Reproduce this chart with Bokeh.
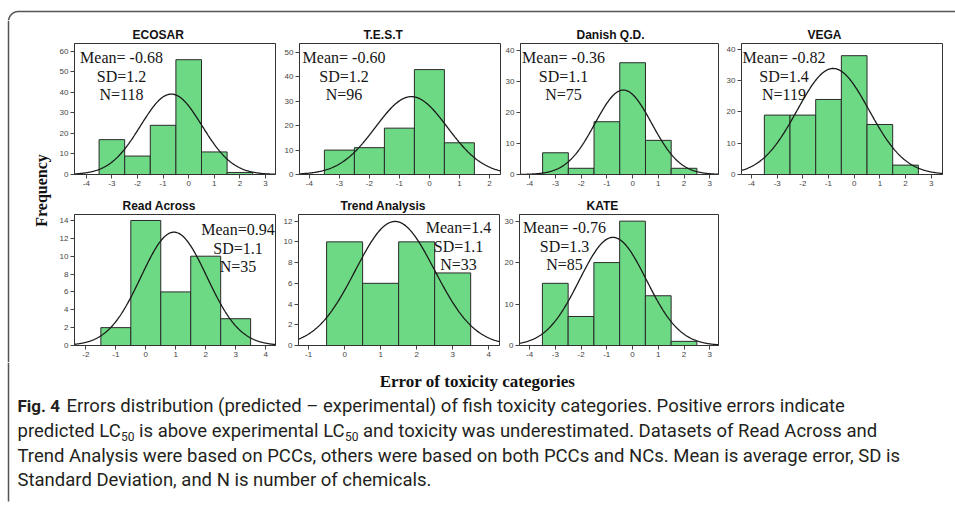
import numpy as np
from bokeh.plotting import figure
from bokeh.layouts import column, row
from bokeh.models import FixedTicker, Title, Range1d
from bokeh.core.properties import value
from bokeh.embed import file_html
from bokeh.resources import INLINE

# ---------------- data ----------------
names = ["ECOSAR", "T.E.S.T", "Danish Q.D.", "VEGA", "Read Across", "Trend Analysis", "KATE"]

ecosar_bins = [-3, -2, -1, 0, 1, 2]
ecosar_freq = [17, 9, 24, 56, 11, 1]
test_bins = [-3, -2, -1, 0, 1]
test_freq = [10, 11, 19, 43, 13]
danish_bins = [-3, -2, -1, 0, 1, 2]
danish_freq = [7, 2, 17, 36, 11, 2]
vega_bins = [-3, -2, -1, 0, 1, 2]
vega_freq = [19, 19, 24, 38, 16, 3]
read_bins = [-1, 0, 1, 2, 3]
read_freq = [2, 14, 6, 10, 3]
trend_bins = [0, 1, 2, 3]
trend_freq = [10, 6, 10, 7]
kate_bins = [-3, -2, -1, 0, 1, 2]
kate_freq = [15, 7, 20, 30, 12, 1]

means = [-0.68, -0.60, -0.36, -0.82, 0.94, 1.4, -0.76]
sds = [1.2, 1.2, 1.1, 1.4, 1.1, 1.1, 1.3]
ns = [118, 96, 75, 119, 35, 33, 85]
mean_labels = ["Mean= -0.68", "Mean= -0.60", "Mean= -0.36", "Mean= -0.82", "Mean=0.94", "Mean=1.4", "Mean= -0.76"]
sd_labels = ["SD=1.2", "SD=1.2", "SD=1.1", "SD=1.4", "SD=1.1", "SD=1.1", "SD=1.3"]
n_labels = ["N=118", "N=96", "N=75", "N=119", "N=35", "N=33", "N=85"]

x_ticks = [list(range(-4, 4)), list(range(-4, 3)), list(range(-4, 4)), list(range(-4, 4)),
           list(range(-2, 5)), list(range(-1, 5)), list(range(-4, 4))]
y_ticks = [list(range(0, 61, 10)), list(range(0, 51, 10)), list(range(0, 41, 10)), list(range(0, 41, 10)),
           list(range(0, 15, 2)), list(range(0, 13, 2)), list(range(0, 31, 10))]
x_ranges = [(-4.46, 3.39), (-4.33, 2.37), (-4.36, 3.34), (-4.39, 3.44), (-2.38, 4.33), (-1.28, 4.30), (-4.39, 3.34)]
y_tops = [63.9, 53.7, 42.2, 41.9, 14.67, 12.64, 31.6]

x_label = "Error of toxicity categories"
y_label = "Frequency"

caption_fig = "Fig. 4"
caption_l1 = "Errors distribution (predicted – experimental) of fish toxicity categories. Positive errors indicate"
caption_l2 = ["predicted LC", "50", "is above experimental LC", "50", "and toxicity was underestimated. Datasets of Read Across and"]
caption_l3 = "Trend Analysis were based on PCCs, others were based on both PCCs and NCs. Mean is average error, SD is"
caption_l4 = "Standard Deviation, and N is number of chemicals."

bins = [ecosar_bins, test_bins, danish_bins, vega_bins, read_bins, trend_bins, kate_bins]
freqs = [ecosar_freq, test_freq, danish_freq, vega_freq, read_freq, trend_freq, kate_freq]

# ---------------- layout geometry ----------------
FH = 131
# (frame width, border left, border right, border top, border bottom, title offset, ann cx from frame-left, ann y1 from frame-top)
geo = [
    (201, 22, 2, 23, 20, 58, 47, 14),
    (201, 22, 1, 23, 20, 64, 44.5, 14),
    (198, 19, 1, 23, 20, 56, 43, 14),
    (201, 22, 13, 23, 20, 66, 42.5, 14),
    (201, 22, 2, 20, 17, 48, 163.5, 15),
    (201, 21, 2, 20, 17, 42, 160, 13),
    (199, 18, 1, 20, 17, 67, 45, 13),
]
LINE_SP = 18.5
GREEN = "#6dd984"
EDGE = "#2a2a2a"


def make_panel(i):
    fw, bl, br, bt, bb, toff, acx, ay = geo[i]
    x0, x1 = x_ranges[i]
    yt = y_tops[i]
    p = figure(frame_width=fw, frame_height=FH, x_range=Range1d(x0, x1), y_range=Range1d(0, yt),
               output_backend="svg", toolbar_location=None,
               min_border_left=bl, min_border_right=br, min_border_top=bt, min_border_bottom=bb)
    p.outline_line_color = "#333333"
    p.outline_line_width = 1
    p.xgrid.visible = False
    p.ygrid.visible = False
    p.add_layout(Title(text=names[i], align="left", offset=toff, standoff=3,
                       text_font="Liberation Sans", text_font_size="12px",
                       text_font_style="bold", text_color="#111111"), "above")
    for ax, ticks in ((p.xaxis, x_ticks[i]), (p.yaxis, y_ticks[i])):
        ax.ticker = FixedTicker(ticks=ticks)
        ax.major_label_overrides = {t: str(t) for t in ticks}
        ax.minor_tick_line_color = None
        ax.major_tick_in = 0
        ax.major_tick_out = 4
        ax.major_label_standoff = 2
        ax.major_label_text_font = "Liberation Sans"
        ax.major_label_text_font_size = "8px"
        ax.major_label_text_color = "#444444"
        ax.axis_line_color = "#333333"
        ax.major_tick_line_color = "#444444"
    left = [b - 0.5 for b in bins[i]]
    right = [b + 0.5 for b in bins[i]]
    p.quad(left=left, right=right, bottom=0, top=freqs[i], fill_color=GREEN, line_color=EDGE, line_width=1)
    xs = np.linspace(x0, x1, 300)
    ys = ns[i] * 1.0 / (sds[i] * np.sqrt(2 * np.pi)) * np.exp(-0.5 * ((xs - means[i]) / sds[i]) ** 2)
    p.line(xs, ys, line_color="#1a1a1a", line_width=1.3)
    cx = x0 + acx / fw * (x1 - x0)
    ty = [yt - (ay + k * LINE_SP) / FH * yt for k in range(3)]
    p.text(x=[cx] * 3, y=ty, text=[mean_labels[i], sd_labels[i], n_labels[i]],
           text_align="center", text_baseline="middle", text_font=value("Liberation Serif"),
           text_font_size="16px", text_color="#151515")
    return p


panels = [make_panel(i) for i in range(7)]


def deco(width, height):
    d = figure(width=width, height=height, x_range=Range1d(0, width), y_range=Range1d(0, height),
               output_backend="svg", toolbar_location=None, x_axis_type=None, y_axis_type=None,
               min_border=0)
    d.outline_line_color = None
    return d


BORDER = "#555555"
# top strip (screen y 0..20)
top = deco(955, 20)
t = np.linspace(0, np.pi / 2, 20)
arc_x = list(18 - 10 * np.cos(t)) + [955]
arc_y = list(20 - (21 - 10 * np.sin(t))) + [20 - 11]
top.line(arc_x, arc_y, line_color=BORDER, line_width=1.5)

# left strip (screen y 20..362)
lf = deco(52, 342)
lf.line([8, 8], [0, 342], line_color=BORDER, line_width=1.5)
lf.text(x=[41], y=[362 - 190], text=[y_label], angle=np.pi / 2, text_align="center", text_baseline="middle",
        text_font=value("Liberation Serif"), text_font_size="16px", text_font_style="bold", text_color="#111111")

# caption strip (screen y 362..506)
cp = deco(955, 144)
H0 = 506
cp.line([8, 8], [H0 - 362, H0 - 501], line_color=BORDER, line_width=1.5)
cp.text(x=[477], y=[H0 - 381], text=[x_label], text_align="center", text_baseline="middle",
        text_font=value("Liberation Serif"), text_font_size="17px", text_font_style="bold", text_color="#111111")
CAP_FONT = "Roboto"
CAP_SIZE = "18.5px"
CAP_COL = "#231f20"
cp.text(x=[17], y=[H0 - 405], text=[caption_fig], text_align="left", text_baseline="middle",
        text_font=value(CAP_FONT), text_font_size="17px", text_font_style="bold", text_color=CAP_COL)
cp.text(x=[66, 17, 17], y=[H0 - 405, H0 - 455, H0 - 479], text=[caption_l1, caption_l3, caption_l4],
        text_align="left", text_baseline="middle",
        text_font=value(CAP_FONT), text_font_size=CAP_SIZE, text_color=CAP_COL)
cp.text(x=[17, 138.5, 362.5], y=[H0 - 430] * 3, text=[caption_l2[0], caption_l2[2], caption_l2[4]],
        text_align="left", text_baseline="middle",
        text_font=value(CAP_FONT), text_font_size=CAP_SIZE, text_color=CAP_COL)
cp.text(x=[120.5, 344.5], y=[H0 - 436] * 2, text=[caption_l2[1], caption_l2[3]],
        text_align="left", text_baseline="middle",
        text_font=value(CAP_FONT), text_font_size="12px", text_color=CAP_COL)

layout = column(top, row(lf, column(row(*panels[:4]), row(*panels[4:]))), cp)

open("out.html", "w").write(file_html(layout, INLINE))
